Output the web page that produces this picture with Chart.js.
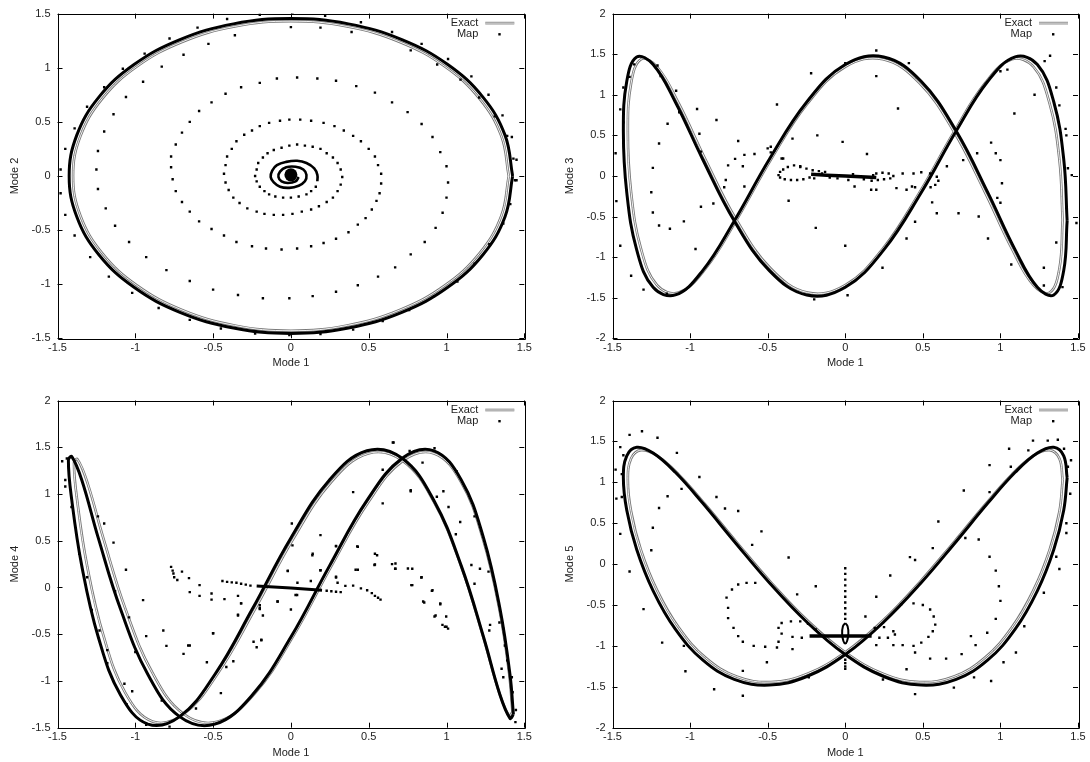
<!DOCTYPE html>
<html>
<head>
<meta charset="utf-8">
<script src="https://cdn.jsdelivr.net/npm/chart.js@4/dist/chart.umd.min.js"></script>
<style>
  html, body { margin: 0; padding: 0; background: #fff; }
  #wrap { position: relative; width: 1090px; height: 762px; }
  #wrap canvas { position: absolute; }
</style>
</head>
<body>
<div id="wrap">
  <canvas id="p1" width="545" height="381" style="left:0;top:0"></canvas>
  <canvas id="p2" width="545" height="381" style="left:545px;top:0"></canvas>
  <canvas id="p3" width="545" height="381" style="left:0;top:381px"></canvas>
  <canvas id="p4" width="545" height="381" style="left:545px;top:381px"></canvas>
</div>
<script>
// axes
var xLabel = 'Mode 1';
var yLabels = ['Mode 2', 'Mode 3', 'Mode 4', 'Mode 5'];
var xRange = [-1.5, 1.5];
var yRanges = [[-1.5, 1.5], [-2, 2], [-1.5, 2], [-2, 2]];
var tickStep = 0.5;
var seriesNames = ['Exact', 'Map'];

// ---- panel 1 (mode 2) ----
var cycle1 = [[1.425,0],[1.376,0.377],[1.234,0.728],[1.008,1.029],[0.713,1.260],[0.369,1.405],[0,1.455],[-0.369,1.405],[-0.713,1.260],[-1.008,1.029],[-1.234,0.728],[-1.376,0.377],[-1.425,0],[-1.376,-0.377],[-1.234,-0.728],[-1.008,-1.029],[-0.713,-1.260],[-0.369,-1.405],[0,-1.455],[0.369,-1.405],[0.713,-1.260],[1.008,-1.029],[1.234,-0.728],[1.376,-0.377],[1.425,0]];
var exact1 = [[1.400,0],[1.352,0.370],[1.212,0.715],[0.990,1.011],[0.700,1.238],[0.362,1.381],[0,1.430],[-0.362,1.381],[-0.700,1.238],[-0.990,1.011],[-1.212,0.715],[-1.352,0.370],[-1.400,0],[-1.352,-0.370],[-1.212,-0.715],[-0.990,-1.011],[-0.700,-1.238],[-0.362,-1.381],[0,-1.430],[0.362,-1.381],[0.700,-1.238],[0.990,-1.011],[1.212,-0.715],[1.352,-0.370],[1.400,0]];
var spiral1 = [[0.17,-0.05],[0.17,0.01],[0.15,0.07],[0.10,0.12],[0.04,0.14],[-0.03,0.13],[-0.09,0.10],[-0.12,0.05],[-0.13,-0.01],[-0.11,-0.06],[-0.07,-0.10],[-0.01,-0.11],[0.05,-0.09],[0.09,-0.05],[0.10,0.01],[0.08,0.06],[0.03,0.085],[-0.03,0.08],[-0.07,0.04],[-0.08,-0.01],[-0.06,-0.05],[-0.02,-0.065],[0.03,-0.05],[0.05,-0.01]];
var core1 = [[0.00,0.01]];
var dots1 = [
  [0.01,1.51],[-0.20,1.49],[-0.41,1.45],[-0.60,1.37],[-0.78,1.27],[-0.94,1.13],[-1.08,0.99],[-1.20,0.82],[-1.31,0.64],[-1.39,0.44],[-1.45,0.25],[-1.48,0.06],[-1.48,-0.16],[-1.45,-0.36],[-1.39,-0.55],[-1.29,-0.75],[-1.17,-0.93],[-1.02,-1.08],[-0.85,-1.22],[-0.65,-1.33],[-0.45,-1.41],[-0.23,-1.455],[-0.01,-1.47],[0.19,-1.46],[0.40,-1.42],[0.59,-1.34],[0.76,-1.24],[0.92,-1.11],
  [1.07,-0.975],[1.18,-0.81],[1.275,-0.63],[1.365,-0.44],[1.41,-0.26],[1.44,-0.04],[1.43,0.16],[1.39,0.37],[1.31,0.55],[1.21,0.725],[1.09,0.89],[0.94,1.03],[0.77,1.16],[0.65,1.33],[0.84,1.22],[1.01,1.08],[1.16,0.92],[1.27,0.75],[1.36,0.56],[1.42,0.36],[1.45,0.15],[1.45,-0.04],[0.22,1.48],[0.45,1.42],
  [0.00,1.375],[0.19,1.37],[0.39,1.33],[-0.36,1.30],[-0.53,1.22],[-0.69,1.12],[-0.83,1.01],[-0.95,0.87],[-1.06,0.73],[-1.14,0.57],[-1.20,0.41],[-1.24,0.23],[-1.25,0.06],[-1.24,-0.12],[-1.19,-0.30],[-1.13,-0.46],[-1.04,-0.61],[-0.93,-0.75],[-0.80,-0.87],[-0.65,-0.97],[-0.50,-1.05],[-0.34,-1.10],[-0.18,-1.13],[-0.01,-1.13],[0.14,-1.11],[0.29,-1.07],[0.43,-1.01],[0.56,-0.93],[0.67,-0.845],[0.77,-0.725],[0.86,-0.61],[0.93,-0.48],[0.975,-0.34],[1.00,-0.20],[1.01,-0.06],[1.00,0.09],[0.96,0.22],[0.91,0.36],[0.84,0.48],[0.75,0.59],[0.65,0.68],[0.54,0.77],[0.42,0.83],[0.29,0.88],[0.17,0.90],[0.04,0.91],[-0.09,0.90],[-0.20,0.86],[-0.32,0.82],[-0.42,0.76],[-0.51,0.68],[-0.59,0.60],[-0.65,0.50],[-0.70,0.40],[-0.74,0.29],[-0.77,0.18],[-0.77,0.08],[-0.76,-0.03],[-0.74,-0.14],[-0.70,-0.24],[-0.65,-0.33],[-0.59,-0.42],[-0.51,-0.49],[-0.43,-0.55],[-0.35,-0.61],[-0.25,-0.65],[-0.16,-0.67],[-0.06,-0.68],[0.04,-0.67],[0.13,-0.65],[0.21,-0.62],[0.29,-0.58],[0.37,-0.52],[0.43,-0.45],[0.48,-0.39],[0.52,-0.31],[0.55,-0.23],[0.57,-0.16],[0.58,-0.07],[0.58,0.02],[0.56,0.10],[0.54,0.18],[0.50,0.25],[0.45,0.32],[0.40,0.37],[0.34,0.42],[0.28,0.46],[0.21,0.49],[0.13,0.51],[0.06,0.52],[-0.01,0.52],[-0.07,0.51],[-0.14,0.49],[-0.20,0.46],[-0.25,0.42],[-0.30,0.38],[-0.35,0.32],[-0.38,0.25],[-0.41,0.18],[-0.42,0.10],[-0.43,0.02],[-0.42,-0.06],[-0.40,-0.13],[-0.37,-0.20],[-0.33,-0.25],[-0.28,-0.30],[-0.22,-0.33],[-0.17,-0.35],[-0.11,-0.36],[-0.05,-0.36],[0.01,-0.35],[0.07,-0.33],[0.13,-0.31],[0.18,-0.28],[0.23,-0.24],[0.27,-0.20],[0.30,-0.14],[0.32,-0.08],[0.33,-0.01],[0.32,0.06],[0.30,0.12],[0.27,0.17],[0.23,0.21],[0.19,0.25],[0.14,0.27],[0.09,0.28],[0.04,0.29],[-0.01,0.28],[-0.06,0.26],[-0.11,0.24],[-0.15,0.21],[-0.18,0.17],[-0.21,0.12],[-0.22,0.06],[-0.23,0.00],[-0.22,-0.05],[-0.20,-0.10],[-0.17,-0.14],[-0.14,-0.17],[-0.10,-0.19],[-0.05,-0.20],[0.00,-0.20],[0.05,-0.19],[0.10,-0.17],[0.13,-0.14],[0.16,-0.10]
];

// ---- shared x positions for the closed curves of panels 2-4 ----
var cycleX = [1.430,1.408,1.344,1.238,1.095,0.919,0.715,0.489,0.248,0,-0.248,-0.489,-0.715,-0.919,-1.095,-1.238,-1.344,-1.408,-1.430,-1.408,-1.344,-1.238,-1.095,-0.919,-0.715,-0.489,-0.248,0,0.248,0.489,0.715,0.919,1.095,1.238,1.344,1.408,1.430];
var exactX = [1.401,1.380,1.317,1.213,1.073,0.901,0.701,0.479,0.243,0,-0.243,-0.479,-0.701,-0.901,-1.073,-1.213,-1.317,-1.380,-1.401,-1.380,-1.317,-1.213,-1.073,-0.901,-0.701,-0.479,-0.243,0,0.243,0.479,0.701,0.901,1.073,1.213,1.317,1.380,1.401];

// ---- panel 2 (mode 3) ----
var cycle2Y = [-0.554,0.206,0.911,1.372,1.466,1.166,0.554,-0.206,-0.911,-1.372,-1.466,-1.166,-0.554,0.206,0.911,1.372,1.466,1.166,0.554,-0.206,-0.911,-1.372,-1.466,-1.166,-0.554,0.206,0.911,1.372,1.466,1.166,0.554,-0.206,-0.911,-1.372,-1.466,-1.166,-0.554];
var exact2Y = [-0.543,0.202,0.893,1.345,1.437,1.143,0.543,-0.202,-0.893,-1.345,-1.437,-1.143,-0.543,0.202,0.893,1.345,1.437,1.143,0.543,-0.202,-0.893,-1.345,-1.437,-1.143,-0.543,0.202,0.893,1.345,1.437,1.143,0.543,-0.202,-0.893,-1.345,-1.437,-1.143,-0.543];
var bar2 = [[-0.22,0.02],[-0.12,0.01],[0.00,0.00],[0.10,-0.01],[0.20,-0.02]];
var dots2 = [
  [-1.48,0.28],[-1.475,-0.31],[-1.45,-0.86],[-1.38,-1.23],[-1.30,-1.40],[-1.15,-1.45],[-1.45,0.82],[-1.43,0.66],[-1.43,1.09],[-1.39,1.22],[-1.36,1.375],[-1.21,1.36],[-1.19,1.23],[-1.09,1.05],[-1.07,0.785],[-0.955,0.825],[-0.94,0.52],[-0.93,0.30],[-0.83,0.69],
  [-1.145,0.643],[-1.20,0.40],[-1.24,0.10],[-1.25,-0.20],[-1.24,-0.45],[-1.20,-0.61],[-1.13,-0.65],[-1.04,-0.56],[-0.965,-0.90],[-0.93,-0.38],[-0.85,-0.34],[-0.78,-0.14],[-0.77,-0.05],[-0.755,0.13],[-0.71,0.21],[-0.69,0.43],[-0.66,0.12],[-0.65,0.26],[-0.65,-0.13],[-0.585,0.27],[-0.50,0.34],[-0.44,0.88],[-0.41,0.215],[-0.365,-0.305],[-0.34,0.46],[-0.22,1.265],[-0.18,0.50],[-0.19,-0.64],[-0.017,0.42],[0.00,-0.86],[0.015,-1.47],[0.14,0.27],[0.167,-0.17],[0.20,1.23],[0.20,1.545],[0.24,-1.13],[0.34,0.83],[0.395,-0.77],[0.45,-0.565],[0.43,-0.13],[0.56,-0.325],[0.59,-0.46],[0.655,0.12],[0.73,-0.46],[0.76,0.195],[0.85,0.28],[0.86,-0.50],[0.92,-0.77],[0.94,0.41],[0.97,0.28],[1.00,0.195],[1.01,-0.09],[0.98,-0.27],[1.00,-0.33],[1.07,-1.09],[1.09,0.77],[1.00,1.29],
  [1.045,1.31],[1.22,1.00],[1.28,-1.35],[1.28,-1.13],[1.285,1.415],[1.32,1.48],[1.36,1.09],[1.38,0.87],[1.42,0.58],[1.425,0.50],[1.435,0.094],[1.46,0.01],[1.49,-0.58],[1.425,-0.395],[1.36,-0.82],[1.40,-1.37],[-0.20,-1.52],[0.00,1.39],[0.41,1.39],
  [-0.43,0.01],[-0.42,0.05],[-0.40,0.08],[-0.37,0.11],[-0.33,0.13],[-0.29,0.12],[-0.25,0.09],[-0.21,0.07],[-0.17,0.06],[-0.13,0.05],[-0.42,-0.02],[-0.39,-0.04],[-0.35,-0.05],[-0.31,-0.05],[-0.27,-0.04],[-0.23,-0.02],[0.20,0.03],[0.24,0.04],[0.28,0.03],[0.31,0.00],[0.29,-0.03],[0.25,-0.04],[0.21,-0.05],[0.17,-0.06],
  [-0.15,0.03],[-0.05,-0.03],[0.05,0.02],[0.12,-0.04],[-0.10,-0.02],[0.18,0.01],[0.02,-0.05],[-0.20,-0.03],
  [0.37,0.03],[0.44,0.03],[0.49,0.045],[0.547,0.03],[0.59,-0.01],[0.60,-0.06],[0.58,-0.11],[0.55,-0.14],[0.45,-0.14],[0.395,-0.17],[0.33,-0.15],[0.20,-0.17],[0.06,-0.13],
  [-0.48,0.36],[-0.48,0.29],[-0.40,0.215],[-0.29,0.11]
];

// ---- panel 3 (mode 4) ----
var cycle3Y = [-1.36,-0.931,-0.231,0.530,1.150,1.462,1.382,0.931,0.231,-0.530,-1.150,-1.462,-1.382,-0.931,-0.231,0.530,1.150,1.40,1.36,0.931,0.231,-0.530,-1.150,-1.462,-1.382,-0.931,-0.231,0.530,1.150,1.462,1.382,0.931,0.231,-0.530,-1.150,-1.40,-1.36];
var exact3X = [1.424,1.402,1.339,1.234,1.094,0.920,0.719,0.497,0.259,0.015,-0.229,-0.467,-0.689,-0.890,-1.064,-1.204,-1.309,-1.372,-1.394,-1.372,-1.309,-1.204,-1.064,-0.890,-0.689,-0.467,-0.229,0.015,0.259,0.497,0.719,0.920,1.094,1.234,1.339,1.402,1.424];
var exact3Y = [-1.333,-0.912,-0.226,0.519,1.127,1.433,1.354,0.912,0.226,-0.519,-1.127,-1.433,-1.354,-0.912,-0.226,0.519,1.127,1.372,1.333,0.912,0.226,-0.519,-1.127,-1.433,-1.354,-0.912,-0.226,0.519,1.127,1.433,1.354,0.912,0.226,-0.519,-1.127,-1.372,-1.333];
var bar3 = [[-0.22,0.015],[0.00,-0.005],[0.20,-0.03]];
var dots3 = [
  [-1.47,1.35],[-1.45,1.15],[-1.45,1.08],[-1.41,0.86],[-1.44,1.38],[-1.36,0.36],[-1.31,0.11],[-1.28,-0.24],[-1.24,0.76],[-1.20,0.685],[-1.23,-0.46],[-1.18,-0.67],[-1.18,-0.81],[-1.14,0.48],[-1.13,-0.04],[-1.07,-1.03],[-1.06,0.19],[-1.02,-1.11],[-1.04,-0.32],[-1.00,-0.69],[-1.055,-1.25],[-0.95,-0.135],[-0.93,-0.52],[-0.82,-0.46],[-0.80,-0.625],[-0.83,-1.21],[-0.93,-1.47],[-0.78,-1.49],[-0.69,-0.71],[-0.66,-0.62],[-0.61,-1.295],[-0.54,-0.80],[-0.50,-0.49],[-0.45,-1.13],[-0.415,-0.85],[-0.37,-0.79],[-0.34,-0.29],[-0.32,-0.17],[-0.24,-0.58],[-0.19,-0.56],[-0.20,-0.22],[-0.18,-0.30],[-0.085,-0.15],[-0.02,0.175],[0.00,-0.235],[0.006,0.685],[0.01,0.45],[0.04,-0.08],[0.14,0.36],[0.19,0.56],[0.19,0.185],[0.29,0.445],[0.29,0.115],[0.43,0.435],[0.43,0.19],[0.40,1.02],[0.54,0.36],[0.54,0.245],[0.59,0.90],[0.59,1.26],[0.66,1.55],[0.67,0.20],[0.77,1.04],[0.78,0.20],[0.78,0.025],[0.84,0.11],[0.85,-0.15],[0.91,-0.03],[0.93,-0.30],[0.96,-0.17],[0.99,-0.42],[1.01,-0.44],
  [0.763,1.46],[0.923,1.49],[0.846,1.335],[0.655,1.55],[1.066,1.24],[0.98,1.03],[0.938,0.97],[1.013,0.86],[1.088,0.70],[1.06,0.57],[1.18,0.76],[1.16,0.24],[1.18,0.04],[1.215,0.20],[1.27,0.17],[1.28,-0.40],[1.275,-0.46],[1.34,-0.375],[1.365,-0.44],[1.375,-0.62],[1.354,-0.87],[1.365,-0.96],[1.42,-0.96],[1.425,-1.12],[1.446,-1.31],[1.443,-1.44],[1.39,-0.78],[0.77,1.03],[0.774,0.025],[0.838,0.107],[0.672,0.257],[0.752,0.203],[0.906,-0.036],[0.857,-0.16],[0.96,-0.18],[0.923,-0.31],[0.974,-0.40],[0.998,-0.31],[1.00,-0.42],
  [-0.77,0.22],[-0.76,0.18],[-0.755,0.15],[-0.75,0.11],[-0.73,0.08],[-0.70,0.17],[-0.655,0.10],[-0.65,-0.05],[-0.587,0.025],[-0.587,-0.09],[-0.51,-0.065],[-0.51,-0.13],[-0.427,-0.125],[-0.34,-0.09],[-0.32,-0.17],[-0.20,-0.19],[-0.20,-0.23],[-0.086,-0.15],[0.03,-0.08],[0.042,0.05],[0.128,0.07],[0.19,0.185],[0.29,0.107],[0.30,0.05],[-0.02,0.18],[0.138,0.345],[0.29,0.44],[0.426,0.44],[0.554,0.345],[0.416,0.19],[0.537,0.24],[0.65,0.25],[0.672,0.20],[-0.34,-0.30],[-0.50,-0.49],[-0.65,-0.62],[-0.19,-0.565],[-0.22,-0.64],
  [-0.44,0.07],[-0.41,0.06],[-0.38,0.055],[-0.35,0.05],[-0.32,0.04],[-0.29,0.03],[-0.26,0.02],[0.23,-0.035],[0.26,-0.04],[0.29,-0.045],[0.32,-0.05],[0.35,0.017],[0.40,0.02],[0.45,-0.01],[0.49,-0.03],[0.52,-0.06],[0.54,-0.09],[0.56,-0.11],[0.576,-0.13]
];

// ---- panel 4 (mode 5) ----
var cycle4Y = [1.056,1.324,1.429,1.359,1.122,0.746,0.277,-0.228,-0.708,-1.106,-1.374,-1.479,-1.409,-1.172,-0.796,-0.327,0.178,0.658,1.056,1.324,1.429,1.359,1.122,0.746,0.277,-0.228,-0.708,-1.106,-1.374,-1.479,-1.409,-1.172,-0.796,-0.327,0.178,0.658,1.056];
var exact4Y = [1.030,1.291,1.393,1.325,1.094,0.727,0.270,-0.222,-0.690,-1.078,-1.340,-1.442,-1.374,-1.143,-0.776,-0.319,0.174,0.642,1.030,1.291,1.393,1.325,1.094,0.727,0.270,-0.222,-0.690,-1.078,-1.340,-1.442,-1.374,-1.143,-0.776,-0.319,0.174,0.642,1.030];
var bar4 = [[-0.23,-0.88],[0.00,-0.88],[0.17,-0.88]];
var loop4 = [[0.00,-0.72],[0.015,-0.76],[0.02,-0.85],[0.012,-0.94],[0.00,-0.97],[-0.012,-0.94],[-0.02,-0.85],[-0.015,-0.76],[0.00,-0.72]];
var dots4 = [
  [-1.48,1.155],[-1.45,1.43],[-1.43,1.33],[-1.39,1.58],[-1.31,1.625],[-1.21,1.545],[-1.44,1.10],[-1.44,0.82],[-1.475,0.80],[-1.45,0.37],[-1.39,-0.09],[-1.30,-0.55],[-1.24,0.445],[-1.25,0.17],[-1.20,0.685],[-1.145,0.83],[-1.18,-0.96],[-1.085,1.36],[-1.055,0.92],[-0.94,1.065],[-0.83,0.82],[-0.775,0.68],[-0.69,0.65],[-0.54,0.40],[-0.60,0.235],[-0.365,0.08],[-0.31,-0.37],[-0.19,-0.27],[-0.43,-0.95],[-0.505,-1.20],[-0.66,-1.305],[-0.66,-1.61],[-0.845,-1.53],[-1.03,-1.31],[-1.04,-1.00],[-0.235,-1.385],
  [1.21,1.51],[1.18,1.39],[1.305,1.51],[1.37,1.52],[1.41,1.41],[1.435,1.19],[1.45,0.86],[1.425,0.50],[1.425,0.38],[1.38,-0.06],[1.36,0.09],[1.28,-0.35],[1.455,1.27],[1.056,1.41],[1.067,1.19],[0.93,1.21],[0.93,0.88],[0.764,0.90],[0.774,0.32],[0.86,0.30],[0.93,0.09],[0.97,-0.08],[0.99,-0.27],[1.00,-0.45],[0.97,-0.67],[0.915,-0.84],[0.84,-0.99],[0.75,-1.10],[0.65,-1.155],[0.547,-1.155],[0.45,-1.08],[0.395,-1.285],[0.31,-0.99],[0.20,-0.99],[0.417,0.085],[0.45,0.05],[0.564,0.195],[0.60,0.52],[0.29,-0.14],[0.20,-0.40],[0.13,-0.64],[1.154,-0.76],[1.10,-1.08],[1.02,-1.20],[0.81,-0.88],[0.83,-1.385],[0.94,-1.43],[0.70,-1.51],[0.45,-1.59],[0.243,-1.41],
  [0.36,-0.49],[0.44,-0.48],[0.50,-0.50],[0.547,-0.555],[0.57,-0.64],[0.58,-0.74],[0.564,-0.82],[0.536,-0.89],[0.49,-0.96],[0.44,-1.00],[0.37,-0.99],
  [-0.755,-0.535],[-0.765,-0.41],[-0.73,-0.31],[-0.69,-0.25],[-0.636,-0.23],[-0.58,-0.23],[-0.755,-0.66],[-0.72,-0.78],[-0.69,-0.88],[-0.66,-0.95],[-0.59,-1.00],[-0.516,-1.01],[-0.44,-1.02],[-0.34,-1.04],
  [-0.43,-0.78],[-0.41,-0.72],[-0.35,-0.70],[-0.29,-0.70],[-0.24,-0.73],[-0.19,-0.80],[-0.41,-0.85],[-0.34,-0.89],[-0.28,-0.90],[0.19,-0.78],[0.25,-0.77],[0.31,-0.82],[0.32,-0.86],[0.275,-0.90],[0.22,-0.90],
  [0,-0.05],[0,-0.12],[0,-0.19],[0,-0.26],[0,-0.33],[0,-0.40],[0,-0.47],[0,-0.54],[0,-0.61],[0,-0.67],[0,-1.17],[0,-1.21],[0,-1.25],[0,-1.28]
];

function pairs(a) { return a.map(function (p) { return {x: p[0], y: p[1]}; }); }
function zip(xs, ys) { return xs.map(function (x, i) { return {x: x, y: ys[i]}; }); }

var font = {family: "'Liberation Sans', Arial, sans-serif", size: 11};
var textColor = '#222';

// frame, inward ticks on all four sides, and the gnuplot-style key
var framePlugin = {
  id: 'frame',
  afterDatasetsDraw: function (chart) {
    var ctx = chart.ctx, a = chart.chartArea, sx = chart.scales.x, sy = chart.scales.y;
    ctx.save();
    ctx.strokeStyle = '#000';
    ctx.lineWidth = 1;
    ctx.beginPath();
    ctx.rect(Math.round(a.left) + 0.5, Math.round(a.top) + 0.5, Math.round(a.right - a.left), Math.round(a.bottom - a.top));
    sx.ticks.forEach(function (t) {
      var px = Math.round(sx.getPixelForValue(t.value)) + 0.5;
      ctx.moveTo(px, a.bottom); ctx.lineTo(px, a.bottom - 5);
      ctx.moveTo(px, a.top); ctx.lineTo(px, a.top + 5);
    });
    sy.ticks.forEach(function (t) {
      var py = Math.round(sy.getPixelForValue(t.value)) + 0.5;
      ctx.moveTo(a.left, py); ctx.lineTo(a.left + 5, py);
      ctx.moveTo(a.right, py); ctx.lineTo(a.right - 5, py);
    });
    ctx.stroke();

    // key
    var r = a.right, y1 = a.top + 9.5, y2 = a.top + 20.5;
    ctx.font = "11px 'Liberation Sans', Arial, sans-serif";
    ctx.fillStyle = textColor;
    ctx.textAlign = 'right';
    ctx.textBaseline = 'middle';
    ctx.fillText(seriesNames[0], r - 46, y1);
    ctx.fillText(seriesNames[1], r - 46, y2);
    ctx.beginPath();
    ctx.strokeStyle = '#777'; ctx.lineWidth = 2.6;
    ctx.moveTo(r - 39, y1); ctx.lineTo(r - 10, y1); ctx.stroke();
    ctx.beginPath();
    ctx.strokeStyle = '#fff'; ctx.lineWidth = 0.9;
    ctx.moveTo(r - 39, y1); ctx.lineTo(r - 10, y1); ctx.stroke();
    ctx.fillStyle = '#000';
    ctx.fillRect(r - 26, y2 - 1, 2.4, 2.4);
    ctx.restore();
  }
};

function panel(id, idx, cfg) {
  var W = 545, H = 381, b = cfg.box;
  var datasets = [{
    label: seriesNames[1], data: pairs(cfg.dots), showLine: false,
    pointStyle: 'rect', pointRadius: 1.7, backgroundColor: '#000', borderWidth: 0, order: 0
  }];
  cfg.lines.forEach(function (l) {
    datasets.push({label: '', data: l.data, showLine: true, borderColor: '#000', borderWidth: l.w,
      pointRadius: 0, tension: l.t, order: 1});
  });
  (cfg.blobs || []).forEach(function (p) {
    datasets.push({label: '', data: pairs(p.data), showLine: false, pointStyle: 'circle',
      pointRadius: p.r, backgroundColor: '#000', borderWidth: 0, order: 0});
  });
  datasets.push({label: '', data: cfg.exact, showLine: true, borderColor: '#fff', borderWidth: 0.9,
    pointRadius: 0, tension: 0.4, order: 2});
  datasets.push({label: seriesNames[0], data: cfg.exact, showLine: true, borderColor: '#777', borderWidth: 2.6,
    pointRadius: 0, tension: 0.4, order: 3});

  new Chart(document.getElementById(id), {
    type: 'scatter',
    data: {datasets: datasets},
    options: {
      responsive: false, animation: false, events: [], devicePixelRatio: 1,
      layout: {padding: {left: 0, right: W - b.right, top: b.top, bottom: 0}},
      plugins: {legend: {display: false}, tooltip: {enabled: false}},
      scales: {
        x: {
          type: 'linear', min: xRange[0], max: xRange[1],
          grid: {display: false, drawTicks: false, tickLength: 0}, border: {display: false},
          ticks: {stepSize: tickStep, padding: 3, font: font, color: textColor, maxRotation: 0, autoSkip: false,
            callback: function (v) { return String(v); }},
          title: {display: true, text: xLabel, font: font, color: textColor, padding: {top: 0, bottom: cfg.xTitlePad}},
          afterFit: function (s) { s.height = H - b.bottom; }
        },
        y: {
          type: 'linear', min: yRanges[idx][0], max: yRanges[idx][1],
          grid: {display: false, drawTicks: false, tickLength: 0}, border: {display: false},
          ticks: {stepSize: tickStep, padding: 7, font: font, color: textColor, autoSkip: false,
            callback: function (v) { return String(v); }},
          title: {display: true, text: yLabels[idx], font: font, color: textColor, padding: {top: cfg.yTitlePad, bottom: 0}},
          afterFit: function (s) { s.width = b.left; }
        }
      }
    },
    plugins: [framePlugin]
  });
}

panel('p1', 0, {
  box: {left: 57.5, right: 524.3, top: 10.7, bottom: 338.3}, xTitlePad: 11, yTitlePad: 8.4,
  dots: dots1, exact: pairs(exact1),
  lines: [{data: pairs(cycle1), w: 3, t: 0.4}, {data: pairs(spiral1), w: 2.6, t: 0.4}],
  blobs: [{data: core1, r: 6.5}]
});
panel('p2', 1, {
  box: {left: 67.5, right: 533, top: 10.7, bottom: 338.3}, xTitlePad: 11, yTitlePad: 18.4,
  dots: dots2, exact: zip(exactX, exact2Y),
  lines: [{data: zip(cycleX, cycle2Y), w: 3, t: 0.4}, {data: pairs(bar2), w: 3.5, t: 0}]
});
panel('p3', 2, {
  box: {left: 57.5, right: 524.3, top: 19.5, bottom: 346.7}, xTitlePad: 2, yTitlePad: 8.4,
  dots: dots3, exact: zip(exact3X, exact3Y),
  lines: [{data: zip(cycleX, cycle3Y), w: 3, t: 0.4}, {data: pairs(bar3), w: 3, t: 0}]
});
panel('p4', 3, {
  box: {left: 67.5, right: 533, top: 19.5, bottom: 346.7}, xTitlePad: 2, yTitlePad: 18.4,
  dots: dots4, exact: zip(exactX, exact4Y),
  lines: [{data: zip(cycleX, cycle4Y), w: 3, t: 0.4}, {data: pairs(bar4), w: 3.5, t: 0}, {data: pairs(loop4), w: 2, t: 0.4}]
});
</script>
</body>
</html>
